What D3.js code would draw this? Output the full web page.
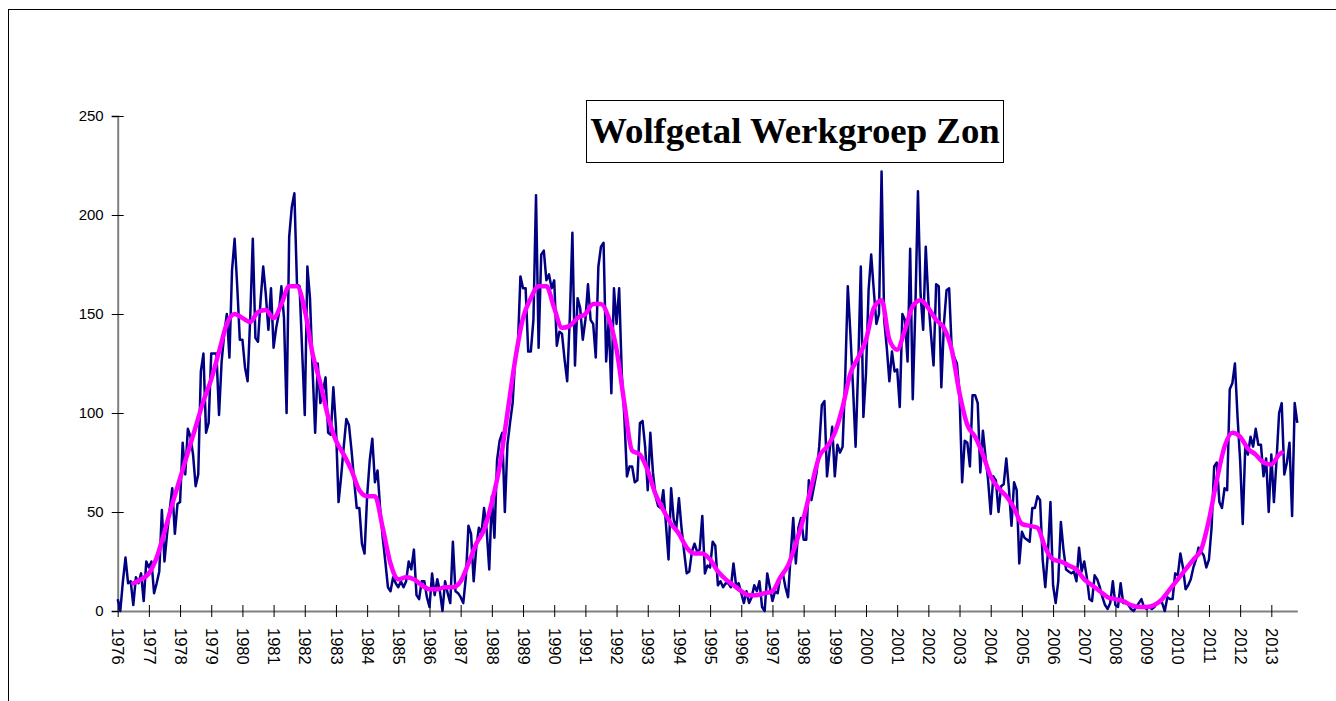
<!DOCTYPE html>
<html>
<head>
<meta charset="utf-8">
<script src="https://cdn.jsdelivr.net/npm/d3@7"></script>
<style>
  body { margin: 0; background: #fff; }
</style>
</head>
<body>
<script>
var title = "Wolfgetal Werkgroep Zon";
var yearLabels = d3.range(1976, 2014);
var yTicks = [0, 50, 100, 150, 200, 250];

// monthly Wolf number, Jan 1976 .. Nov 2013 (one row per year)
var wolfNumber = [
  6, 0, 15, 27, 14, 15, 3, 17, 14, 19, 5, 25,
  22, 25, 9, 14, 20, 51, 25, 39, 51, 62, 39, 54,
  55, 85, 69, 92, 88, 79, 63, 69, 121, 130, 90, 95,
  130, 130, 130, 99, 126, 140, 150, 128, 172, 188, 164, 137,
  137, 123, 116, 148, 188, 138, 136, 157, 174, 160, 142, 163,
  133, 143, 150, 164, 148, 100, 189, 204, 211, 165, 164, 131,
  99, 174, 158, 122, 90, 125, 105, 111, 118, 90, 89, 113,
  93, 55, 68, 83, 97, 94, 81, 66, 52, 52, 34, 29,
  58, 76, 87, 65, 71, 52, 37, 25, 12, 10, 17, 14,
  12, 15, 12, 15, 25, 21, 31, 8, 6, 15, 15, 7,
  2, 19, 8, 16, 10, 0, 15, 9, 4, 35, 10, 9,
  7, 4, 17, 43, 39, 15, 32, 42, 39, 52, 41, 21,
  58, 37, 76, 86, 90, 50, 84, 95, 105, 128, 133, 169,
  163, 163, 131, 131, 147, 210, 133, 180, 182, 167, 170, 163,
  167, 134, 141, 140, 127, 116, 148, 191, 124, 158, 153, 137,
  147, 165, 147, 145, 128, 174, 184, 186, 126, 147, 110, 163,
  145, 163, 120, 98, 68, 73, 73, 65, 66, 95, 96, 83,
  61, 90, 70, 58, 53, 52, 61, 44, 26, 62, 46, 42,
  57, 42, 30, 19, 20, 30, 34, 30, 31, 48, 19, 23,
  22, 35, 33, 13, 15, 12, 14, 14, 12, 24, 13, 14,
  9, 4, 10, 4, 7, 13, 10, 15, 2, 0, 19, 12,
  5, 10, 9, 17, 19, 12, 7, 28, 47, 24, 42, 47,
  36, 36, 66, 56, 63, 70, 83, 104, 106, 68, 81, 93,
  68, 84, 80, 83, 118, 164, 140, 113, 83, 123, 174, 98,
  120, 162, 180, 162, 145, 150, 222, 147, 133, 116, 131, 121,
  122, 103, 150, 147, 126, 183, 107, 153, 212, 160, 142, 184,
  157, 140, 124, 165, 164, 113, 145, 162, 163, 132, 128, 125,
  110, 65, 86, 85, 73, 109, 109, 105, 70, 91, 78, 66,
  49, 68, 66, 50, 63, 64, 77, 62, 43, 65, 61, 24,
  40, 37, 36, 35, 52, 52, 58, 56, 26, 12, 29, 55,
  13, 4, 15, 45, 31, 21, 20, 19, 20, 15, 32, 20,
  25, 17, 6, 5, 18, 16, 12, 7, 3, 1, 4, 15,
  3, 2, 14, 4, 4, 3, 1, 0, 2, 4, 6, 2,
  1, 2, 1, 2, 4, 5, 4, 0, 7, 6, 6, 19,
  18, 29, 22, 11, 13, 16, 22, 26, 32, 30, 28, 22,
  26, 42, 73, 75, 55, 52, 62, 61, 112, 115, 125, 98,
  76, 44, 84, 79, 88, 83, 92, 84, 84, 68, 77, 50,
  79, 55, 76, 100, 105, 69, 75, 85, 48, 105, 95
];

// smoothed curve, read every third month from Jul 1976 (month index 6)
var smoothMonth = d3.range(6, 448, 3).concat([448]);
var smoothValue = [
  14, 16, 19, 27, 40, 54, 67, 80, 93, 106, 117, 131, 145, 150, 148, 146,
  151, 152, 148, 155, 164, 164, 152, 130, 115, 98, 86, 79, 71, 61, 58, 58,
  42, 24, 16, 17, 16, 13, 11, 11, 12, 12, 15, 24, 34, 41, 55, 73,
  100, 127, 148, 158, 164, 164, 153, 143, 144, 148, 150, 155, 155, 148, 132, 105,
  81, 79, 71, 59, 51, 44, 39, 32, 29, 29, 26, 20, 16, 13, 10, 8,
  8, 9, 10, 17, 23, 34, 47, 63, 78, 83, 90, 103, 120, 128, 137, 153,
  157, 137, 132, 142, 154, 157, 153, 147, 143, 132, 110, 94, 88, 79, 68, 62,
  58, 52, 44, 43, 42, 32, 26, 25, 23, 21, 16, 13, 10, 7, 6, 5,
  3, 2, 2, 3, 6, 11, 16, 21, 26, 31, 46, 66, 83, 90, 88, 82,
  79, 75, 74, 79, 80
];

var w = 1336;
var h = 701;

var svg = d3.select("body")
            .append("svg")
            .attr("width", w)
            .attr("height", h)
            .style("font-family", "'Liberation Sans', Arial, sans-serif");

// chart area border (only top and left edge visible)
svg.append("rect")
   .attr("x", 8.5)
   .attr("y", 9.5)
   .attr("width", w + 20)
   .attr("height", h + 20)
   .attr("fill", "#fff")
   .attr("stroke", "#000")
   .attr("stroke-width", 1);

var x = d3.scaleLinear()
          .domain([0, wolfNumber.length - 1])
          .range([117.7, 1297.3]);

var y = d3.scaleLinear()
          .domain([0, 250])
          .range([611, 116]);

// y axis
var yAxis = svg.append("g")
               .attr("transform", "translate(117.7,0)")
               .call(d3.axisLeft(y).tickValues(yTicks).tickSizeOuter(0).tickSize(6).tickPadding(8));
yAxis.select(".domain").attr("stroke", "#808080").attr("stroke-width", 2);
yAxis.selectAll(".tick line").attr("x1", 6).attr("x2", -6).attr("stroke", "#000");
yAxis.selectAll(".tick text")
     .attr("fill", "#000")
     .style("font-size", "15px")
     .style("font-family", "'Liberation Sans', Arial, sans-serif");

// x axis, one label per January
var xAxis = svg.append("g")
               .attr("transform", "translate(0,611)")
               .call(d3.axisBottom(x)
                       .tickValues(yearLabels.map(function(d) { return (d - yearLabels[0]) * 12; }))
                       .tickFormat(function(d) { return yearLabels[0] + d / 12; })
                       .tickSizeOuter(0));
xAxis.select(".domain").attr("stroke", "#808080").attr("stroke-width", 2);
xAxis.selectAll(".tick line").attr("y1", -6).attr("y2", 6).attr("stroke", "#000");
xAxis.selectAll(".tick text")
     .attr("y", 0)
     .attr("x", 17)
     .attr("dy", "0.35em")
     .attr("transform", "rotate(90)")
     .attr("fill", "#000")
     .style("text-anchor", "start")
     .style("font-size", "16.5px")
     .style("font-family", "'Liberation Sans', Arial, sans-serif");

// monthly values
var line = d3.line()
             .x(function(d, i) { return x(i); })
             .y(function(d) { return y(d); });

svg.append("path")
   .datum(wolfNumber)
   .attr("d", line)
   .attr("fill", "none")
   .attr("stroke", "#000080")
   .attr("stroke-width", 2.5)
   .attr("stroke-linejoin", "round");

// smoothed curve
var smoothLine = d3.line()
                   .x(function(d, i) { return x(smoothMonth[i]); })
                   .y(function(d) { return y(d); })
                   .curve(d3.curveMonotoneX);

svg.append("path")
   .datum(smoothValue)
   .attr("d", smoothLine)
   .attr("fill", "none")
   .attr("stroke", "#ff00ff")
   .attr("stroke-width", 4.5)
   .attr("stroke-linejoin", "round")
   .attr("stroke-linecap", "round");

// title box
svg.append("rect")
   .attr("x", 586.5)
   .attr("y", 100.5)
   .attr("width", 417)
   .attr("height", 62)
   .attr("fill", "#fff")
   .attr("stroke", "#000")
   .attr("stroke-width", 1);

svg.append("text")
   .attr("x", 795)
   .attr("y", 143)
   .attr("text-anchor", "middle")
   .style("font-family", "'Liberation Serif', 'Times New Roman', serif")
   .style("font-weight", "bold")
   .style("font-size", "36.8px")
   .text(title);
</script>
</body>
</html>
